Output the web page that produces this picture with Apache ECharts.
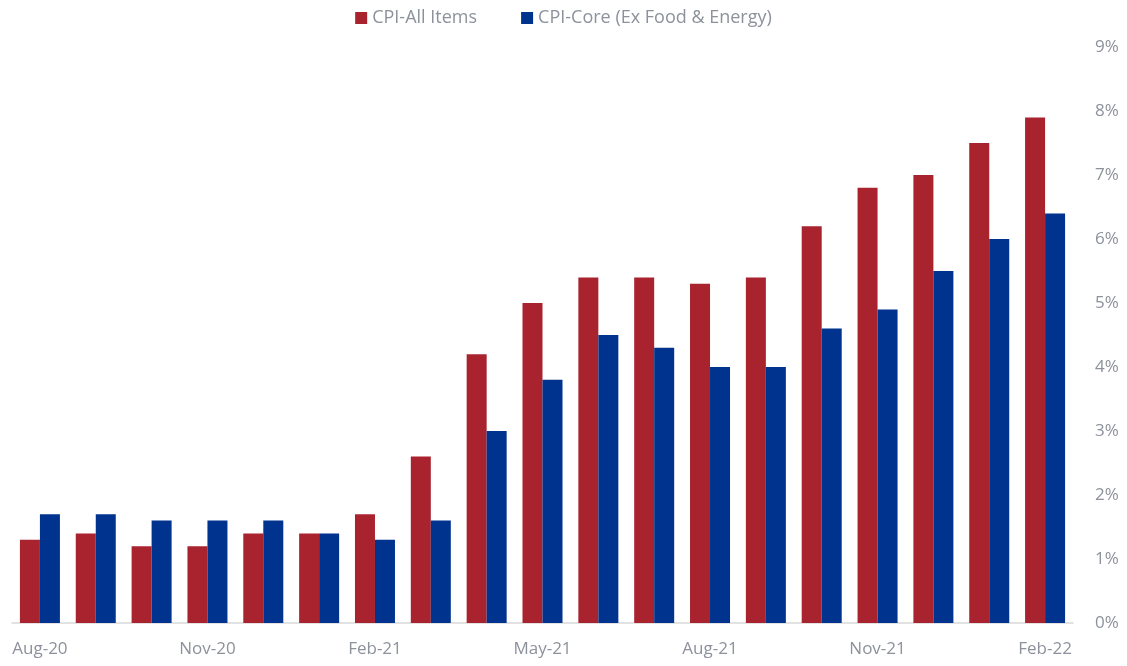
<!DOCTYPE html>
<html>
<head>
<meta charset="utf-8">
<script src="https://cdn.jsdelivr.net/npm/echarts@6/dist/echarts.min.js"></script>
<style>
  html, body { margin: 0; padding: 0; background: #fff; }
  #chart { width: 1127px; height: 666px; }
</style>
</head>
<body>
<div id="chart"></div>
<script>
// months, Aug-20 .. Feb-22
const months = ['Aug-20', 'Sep-20', 'Oct-20', 'Nov-20', 'Dec-20', 'Jan-21', 'Feb-21', 'Mar-21', 'Apr-21',
  'May-21', 'Jun-21', 'Jul-21', 'Aug-21', 'Sep-21', 'Oct-21', 'Nov-21', 'Dec-21', 'Jan-22', 'Feb-22']
// year-over-year %
const cpiAll = [1.3, 1.4, 1.2, 1.2, 1.4, 1.4, 1.7, 2.6, 4.2, 5.0, 5.4, 5.4, 5.3, 5.4, 6.2, 6.8, 7.0, 7.5, 7.9]
const cpiCore = [1.7, 1.7, 1.6, 1.6, 1.6, 1.4, 1.3, 1.6, 3.0, 3.8, 4.5, 4.3, 4.0, 4.0, 4.6, 4.9, 5.5, 6.0, 6.4]

const font = '"Open Sans", sans-serif'
const grey = '#8c919b'

let chart = echarts.init(document.getElementById('chart'))
chart.setOption({
  animation: false,
  textStyle: { fontFamily: font },
  legend: {
    top: 4,
    left: 'center',
    itemWidth: 12,
    itemHeight: 12,
    itemGap: 44,
    icon: 'rect',
    textStyle: { color: grey, fontSize: 18, fontFamily: font }
  },
  grid: { left: 12, right: 54, top: 47, bottom: 43 },
  xAxis: {
    type: 'category',
    data: months,
    axisLine: { lineStyle: { color: '#d9d9d9', width: 1.5 } },
    axisTick: { show: false },
    axisLabel: { interval: 2, color: grey, fontSize: 17, margin: 18, fontFamily: font }
  },
  yAxis: {
    type: 'value',
    position: 'right',
    min: 0,
    max: 9,
    interval: 1,
    splitLine: { show: false },
    axisLabel: { formatter: '{value}%', color: grey, fontSize: 17, margin: 22, fontFamily: font }
  },
  series: [
    {
      name: 'CPI-All Items',
      type: 'bar',
      data: cpiAll,
      barWidth: 20,
      barGap: '0%',
      itemStyle: { color: '#a8232e' }
    },
    {
      name: 'CPI-Core (Ex Food & Energy)',
      type: 'bar',
      data: cpiCore,
      barWidth: 20,
      barGap: '0%',
      itemStyle: { color: '#00338d' }
    }
  ]
})
</script>
</body>
</html>
